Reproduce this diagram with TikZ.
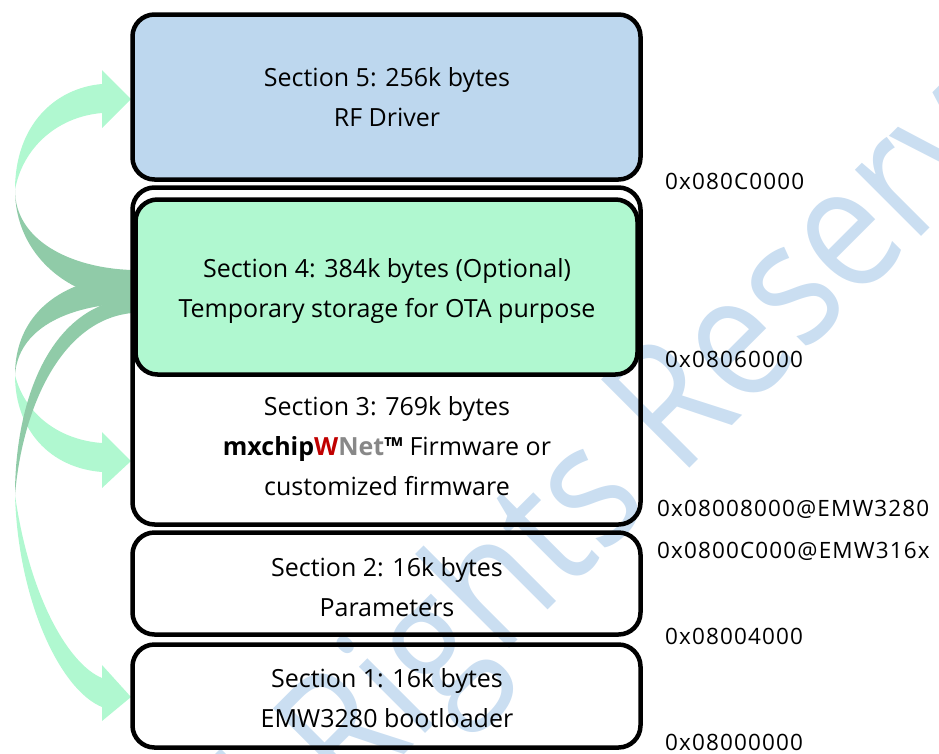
\documentclass[tikz,border=0pt]{standalone}
\usepackage{fontspec}
\setmainfont{Open Sans}
\newfontfamily\addrfont[LetterSpace=5]{Open Sans}
\definecolor{blue5}{RGB}{189,215,238}
\definecolor{green4}{RGB}{176,248,208}
\definecolor{arrlight}{RGB}{176,248,208}
\definecolor{arrdark}{RGB}{144,203,168}
\definecolor{wmblue}{RGB}{202,222,241}
\definecolor{wred}{RGB}{192,0,0}
\definecolor{wgray}{RGB}{136,136,136}
\begin{document}
\begin{tikzpicture}[x=1pt,y=-1pt,
  box/.style={rectangle, rounded corners=22pt, line width=4.5pt, inner sep=0pt, outer sep=0pt, draw=black, minimum width=508pt},
  sectxt/.style={align=center, font=\fontsize{25}{40}\selectfont, inner sep=0pt},
  addr/.style={anchor=base west, font=\addrfont\fontsize{22.5}{26}\selectfont, inner sep=0pt},
  wm/.style={rotate=45, xscale=0.85, text=wmblue, inner sep=0pt, font=\fontsize{175}{175}\selectfont},
  lightarr/.style={fill=arrlight},
  darkarr/.style={fill=arrdark}]
\useasboundingbox (0,0) rectangle (939,753);
% watermark
\node[wm] (wmark) at (636,458) {All Rights Reserved};
% arrows
\fill[lightarr] (15,375) .. controls (15,430) and (50,468) .. (102,472) -- (102,488) -- (131,461) -- (102,432) -- (102,443) .. controls (60,440) and (25,415) .. (15,375) -- cycle;
\fill[darkarr] (132,298) .. controls (50,305) and (15,400) .. (15,495) .. controls (22,410) and (60,320) .. (132,313) -- cycle;
\fill[lightarr] (15,190) .. controls (15,125) and (55,88) .. (102,84) -- (102,70) -- (131,99) -- (102,128) -- (102,113) .. controls (55,117) and (22,150) .. (15,190) -- cycle;
\fill[darkarr] (15,190) .. controls (15,240) and (70,268) .. (132,270) -- (132,300) .. controls (70,300) and (15,255) .. (15,190) -- cycle;
\fill[darkarr] (132,275) .. controls (60,278) and (15,315) .. (15,375) .. controls (18,330) and (65,305) .. (132,303) -- cycle;
\fill[lightarr] (15,495) .. controls (18,600) and (60,690) .. (102,707) -- (102,721) -- (131,697) -- (102,665) -- (102,678) .. controls (70,665) and (30,600) .. (15,495) -- cycle;
% boxes
\node[box, fill=blue5, minimum height=165pt] (s5) at (386.5,97) {};
\node[box, minimum height=337pt] (s3) at (386.5,356) {};
\node[box, fill=green4, minimum width=502pt, minimum height=175pt] (s4) at (386.5,287) {};
\node[box, minimum height=102pt] (s2) at (386.5,583.5) {};
\node[box, minimum height=103pt] (s1) at (386.5,696) {};
% texts
\node[sectxt] (t5) at (387,97.5) {Section 5: 256k bytes\\RF Driver};
\node[sectxt] (t4) at (387,290.5) {Section 4: 384k bytes (Optional)\\Temporary storage for OTA purpose};
\node[sectxt] (t3) at (387,446.5) {Section 3: 769k bytes\\{\bfseries mxchip\textcolor{wred}{W}\textcolor{wgray}{Net}™} Firmware or\\customized firmware};
\node[sectxt] (t2) at (387,587.5) {Section 2: 16k bytes\\Parameters};
\node[sectxt] (t1) at (387,698) {Section 1: 16k bytes\\EMW3280 bootloader};
% addresses
\node[addr] (a5) at (665,189) {0x080C0000};
\node[addr] (a4) at (665,367) {0x08060000};
\node[addr] (a3a) at (657,516) {0x08008000@EMW3280};
\node[addr] (a3b) at (657,558) {0x0800C000@EMW316x};
\node[addr] (a2) at (665,644) {0x08004000};
\node[addr] (a1) at (665,750) {0x08000000};
\end{tikzpicture}
\end{document}
